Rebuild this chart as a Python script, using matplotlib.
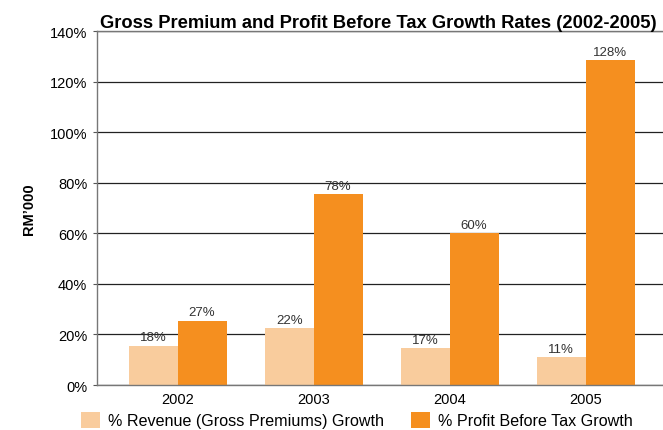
import numpy as np
import matplotlib
matplotlib.use("Agg")
import matplotlib.pyplot as plt

years = ["2002", "2003", "2004", "2005"]
# bar heights as drawn (%) and the printed labels
revenue_heights = [15.5, 22.5, 14.5, 11.0]
profit_heights = [25.5, 75.5, 60.0, 128.5]
revenue_labels = ["18%", "22%", "17%", "11%"]
profit_labels = ["27%", "78%", "60%", "128%"]
y_ticks = [0, 20, 40, 60, 80, 100, 120, 140]

light = "#f9cc9d"
orange = "#f58f1f"

plt.rcParams['font.family'] = ['Liberation Sans', 'DejaVu Sans']

fig = plt.figure(figsize=(6.63, 4.31), dpi=100)
ax = fig.add_axes([0.1463, 0.1044, 0.86, 0.8213])

x = np.arange(len(years))
w = 0.36
b1 = ax.bar(x - w / 2, revenue_heights, w, color=light, zorder=2,
            label="% Revenue (Gross Premiums) Growth")
b2 = ax.bar(x + w / 2, profit_heights, w, color=orange, zorder=2,
            label="% Profit Before Tax Growth")

for i in range(len(years)):
    ax.text(x[i] - w / 2, revenue_heights[i] + 1, revenue_labels[i],
            ha="center", va="bottom", fontsize=9.5, color="#333333", zorder=3)
    ax.text(x[i] + w / 2, profit_heights[i] + 1, profit_labels[i],
            ha="center", va="bottom", fontsize=9.5, color="#333333", zorder=3)

ax.set_xlim(-0.593, 3.6)
ax.set_ylim(0, 140)
ax.set_yticks(y_ticks, labels=[f"{t}%" for t in y_ticks])
ax.set_xticks(x, labels=years)
ax.tick_params(axis="y", labelsize=10.5, length=3, color="#555555", pad=4)
ax.tick_params(axis="x", labelsize=10.5, length=0, pad=5)
ax.yaxis.grid(True, color="#222222", linewidth=0.9, zorder=1)
ax.set_axisbelow(True)

for s in ["left", "bottom", "top"]:
    ax.spines[s].set_color("#777777")
    ax.spines[s].set_linewidth(1.0)
ax.spines["right"].set_visible(False)

ax.set_ylabel("RM\u2019000", fontsize=10.5, fontweight="bold", labelpad=10)
ax.set_title("Gross Premium and Profit Before Tax Growth Rates (2002-2005)",
             fontsize=13.2, fontweight="bold", pad=3, x=0.494)

fig.legend(handles=[b1, b2], loc="center", bbox_to_anchor=(0.538, 0.023),
           ncol=2, frameon=False, fontsize=11.6, handlelength=1.2,
           handleheight=1.2, handletextpad=0.45, columnspacing=1.7,
           borderaxespad=0)

fig.savefig("out.png", dpi=100)
